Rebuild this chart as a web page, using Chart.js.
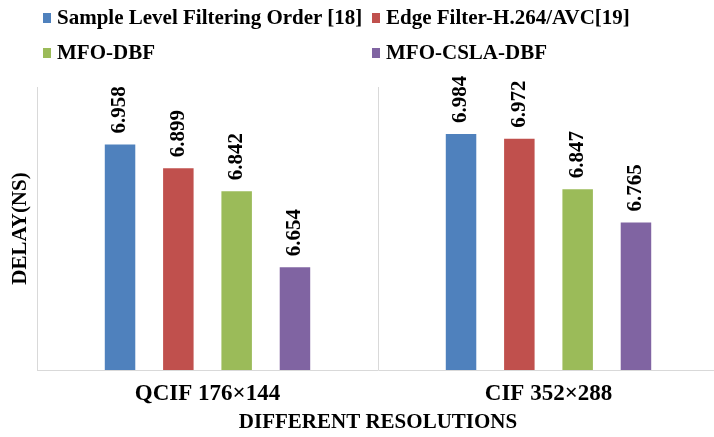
<!DOCTYPE html>
<html>
<head>
<meta charset="utf-8">
<script src="https://cdn.jsdelivr.net/npm/chart.js@4/dist/chart.umd.min.js"></script>
<style>
  html, body { margin: 0; padding: 0; background: #fff; overflow: hidden; }
  #wrap { position: absolute; left: 0; top: 0; width: 719px; height: 437px; }
  #legend { position: absolute; left: 0; top: 0; width: 714px; height: 80px;
            font: bold 21px 'Liberation Serif', 'Times New Roman', serif; color: #000; }
  .item { position: absolute; white-space: nowrap; line-height: 25px; }
  .box { position: absolute; width: 8px; height: 10px; }
</style>
</head>
<body>
<div id="wrap"><canvas id="delayChart"></canvas></div>
<div id="legend"></div>
<script>
const categories = ['QCIF 176\u00d7144', 'CIF 352\u00d7288'];
const seriesNames = ['Sample Level Filtering Order [18]', 'Edge Filter-H.264/AVC[19]', 'MFO-DBF', 'MFO-CSLA-DBF'];
const sampleLevel = [6.958, 6.984];
const edgeFilter = [6.899, 6.972];
const mfoDbf = [6.842, 6.847];
const mfoCslaDbf = [6.654, 6.765];
const yMin = 6.4;
const yMax = 7.1;

const colors = ['#4F81BD', '#C0504D', '#9BBB59', '#8064A2'];
const serif = "'Liberation Serif', 'Times New Roman', serif";
const gridGrey = '#d9d9d9';

const seriesValues = [sampleLevel, edgeFilter, mfoDbf, mfoCslaDbf];

// legend laid out in two columns like the original
const legendCols = [43, 372];
const legendRows = [5, 40];
const legendEl = document.getElementById('legend');
seriesNames.forEach((name, i) => {
  const col = i % 2, row = Math.floor(i / 2);
  const box = document.createElement('div');
  box.className = 'box';
  box.style.left = legendCols[col] + 'px';
  box.style.top = (legendRows[row] + 8) + 'px';
  box.style.background = colors[i];
  legendEl.appendChild(box);
  const txt = document.createElement('div');
  txt.className = 'item';
  txt.style.left = (legendCols[col] + 14) + 'px';
  txt.style.top = legendRows[row] + 'px';
  txt.textContent = name;
  legendEl.appendChild(txt);
});

const valueLabels = {
  id: 'valueLabels',
  afterDatasetsDraw(chart) {
    const ctx = chart.ctx;
    ctx.save();
    ctx.font = 'bold 21px ' + serif;
    ctx.fillStyle = '#000';
    ctx.textAlign = 'left';
    ctx.textBaseline = 'middle';
    chart.data.datasets.forEach((ds, di) => {
      chart.getDatasetMeta(di).data.forEach((bar, i) => {
        ctx.save();
        ctx.translate(bar.x, bar.y - 11);
        ctx.rotate(-Math.PI / 2);
        ctx.fillText(ds.data[i].toFixed(3), 0, 0);
        ctx.restore();
      });
    });
    ctx.restore();
  }
};

const ctx = document.getElementById('delayChart').getContext('2d');

const delayChart = new Chart(ctx, {
  type: 'bar',
  data: {
    labels: categories,
    datasets: seriesNames.map((name, i) => ({
      label: name,
      data: seriesValues[i],
      backgroundColor: colors[i],
      borderWidth: 0,
      categoryPercentage: 0.684,
      barPercentage: 0.523
    }))
  },
  options: {
    responsive: true,
    maintainAspectRatio: false,
    animation: false,
    layout: {
      padding: { left: 0, top: 87, right: 0, bottom: 0 }
    },
    scales: {
      x: {
        grid: {
          display: true,
          offset: true,
          drawTicks: false,
          color: gridGrey
        },
        border: { color: gridGrey },
        ticks: {
          padding: 10.2,
          color: '#000',
          font: { family: serif, size: 23, weight: 'bold' }
        },
        title: {
          display: true,
          text: 'DIFFERENT RESOLUTIONS',
          color: '#000',
          padding: { top: -7.6, bottom: 1.4 },
          font: { family: serif, size: 21, weight: 'bold' }
        }
      },
      y: {
        min: yMin,
        max: yMax,
        grid: { display: false, drawTicks: false },
        border: { display: false },
        ticks: { display: false },
        title: {
          display: true,
          text: 'DELAY(NS)',
          color: '#000',
          padding: { top: 8.4, bottom: 3.4 },
          font: { family: serif, size: 21, weight: 'bold' }
        }
      }
    },
    plugins: {
      legend: { display: false },
      tooltip: { enabled: false }
    }
  },
  plugins: [valueLabels]
});
</script>
</body>
</html>
